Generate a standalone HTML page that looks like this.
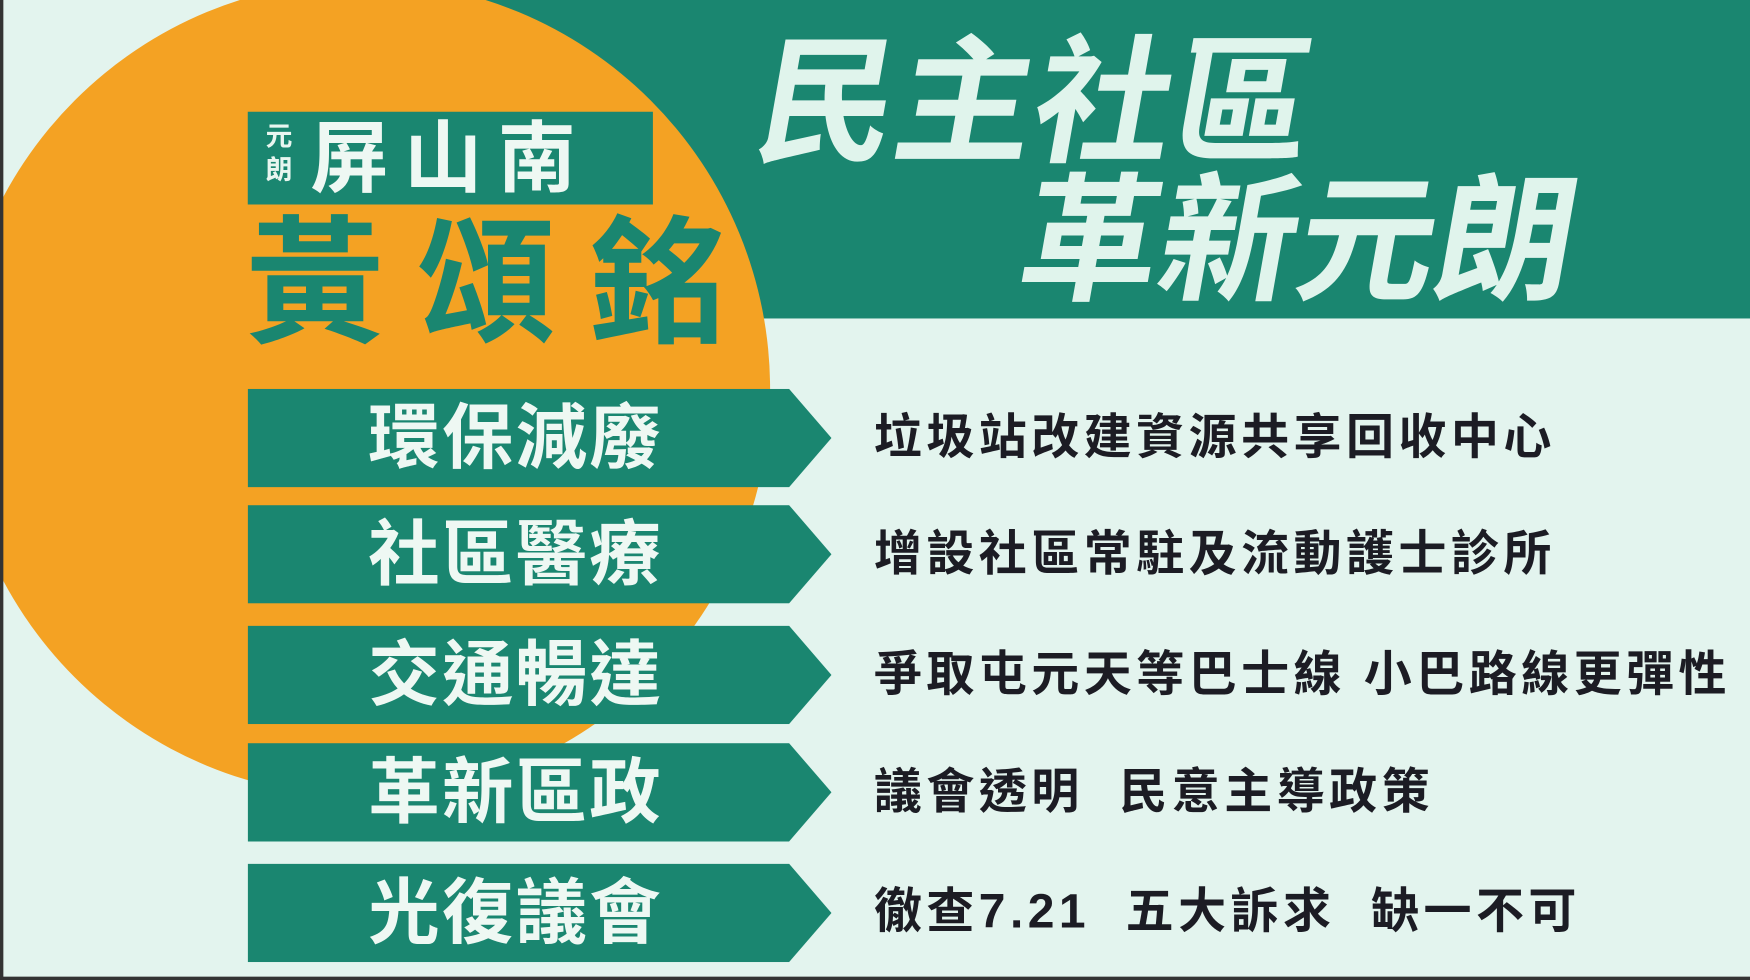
<!DOCTYPE html>
<html><head><meta charset="utf-8"><style>
html,body{margin:0;padding:0;width:1750px;height:980px;overflow:hidden;background:#1d1d1f}
#s{position:absolute;left:0;top:0;width:1568px;height:877px;transform-origin:0 0;transform:scale(1.11607,1.11745);background:#e3f4ee;overflow:hidden;font-family:"Liberation Sans","Noto Sans CJK TC",sans-serif;font-weight:bold}
#s::before{content:"";position:absolute;left:0;top:0;width:3px;height:877px;background:#333;z-index:5}
.ab{position:absolute;white-space:nowrap}
.lab{position:absolute;left:222px;width:523px;height:88px}
.lab svg{position:absolute;left:0;top:0}
.lab span{position:absolute;left:0;width:480px;text-align:center;top:4px;font-size:64px;color:#eef8f3;line-height:80px;letter-spacing:2px}
.desc{position:absolute;left:783px;font-size:43px;color:#1c1c24;line-height:50px;letter-spacing:4px}
</style></head><body>
<div id="s">
<div class="ab" style="left:420px;top:0;width:1148px;height:285px;background:#1a8670"></div>
<div class="ab" style="left:-40px;top:-17px;width:730px;height:730px;border-radius:50%;background:#f4a223"></div>
<div class="ab" style="left:222px;top:100px;width:363px;height:83px;background:#1a8670"></div>
<div class="ab" style="left:238px;top:108px;font-size:24px;line-height:30px;color:#e8f6f0;width:28px">元<br>朗</div>
<div class="ab" style="left:278px;top:98px;font-size:70px;line-height:88px;color:#eef8f3;letter-spacing:14px">屏山南</div>
<div class="ab" style="left:220px;top:180px;font-size:124px;line-height:150px;color:#1a8670;letter-spacing:30px">黃頌銘</div>
<div class="ab" style="left:680px;top:18px;font-size:124px;line-height:150px;color:#e0f4ec;transform:skewX(-10deg)">民主社區</div>
<div class="ab" style="left:916px;top:142px;font-size:124px;line-height:150px;color:#e0f4ec;transform:skewX(-10deg)">革新元朗</div>

<div class="lab" style="top:348px"><svg width="523" height="88"><polygon points="0,0 485,0 523,44 485,88 0,88" fill="#1a8670"/></svg><span>環保減廢</span></div>
<div class="desc" style="top:367px">垃圾站改建資源共享回收中心</div>

<div class="lab" style="top:452px"><svg width="523" height="88"><polygon points="0,0 485,0 523,44 485,88 0,88" fill="#1a8670"/></svg><span>社區醫療</span></div>
<div class="desc" style="top:471px">增設社區常駐及流動護士診所</div>

<div class="lab" style="top:560px"><svg width="523" height="88"><polygon points="0,0 485,0 523,44 485,88 0,88" fill="#1a8670"/></svg><span>交通暢達</span></div>
<div class="desc" style="top:579px">爭取屯元天等巴士線&nbsp;小巴路線更彈性</div>

<div class="lab" style="top:665px"><svg width="523" height="88"><polygon points="0,0 485,0 523,44 485,88 0,88" fill="#1a8670"/></svg><span>革新區政</span></div>
<div class="desc" style="top:684px">議會透明&nbsp;&nbsp;民意主導政策</div>

<div class="lab" style="top:773px"><svg width="523" height="88"><polygon points="0,0 485,0 523,44 485,88 0,88" fill="#1a8670"/></svg><span>光復議會</span></div>
<div class="desc" style="top:791px">徹查7.21&nbsp;&nbsp;五大訴求&nbsp;&nbsp;缺一不可</div>

<div class="ab" style="left:0;top:874px;width:1568px;height:3px;background:#333"></div>
</div>
</body></html>
